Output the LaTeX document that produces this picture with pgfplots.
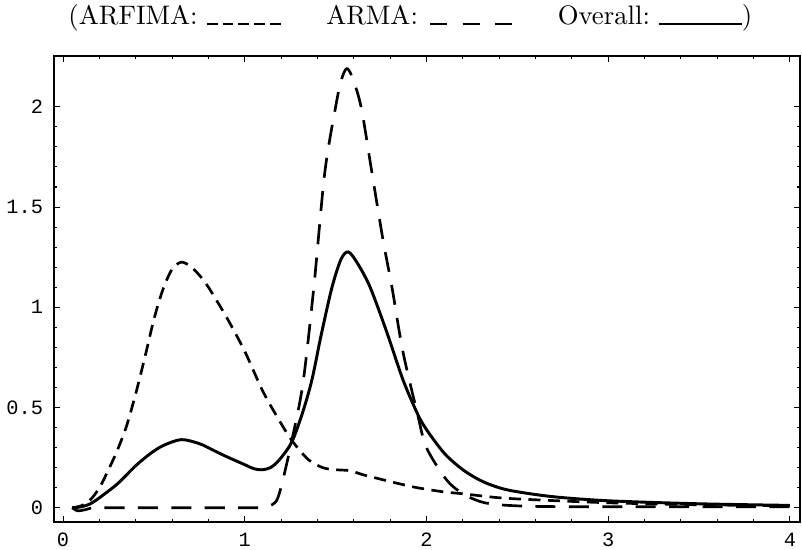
\documentclass[border=0pt]{standalone}
\usepackage{pgfplots}
\pgfplotsset{compat=1.18}
\usepackage{fontspec}
\setmonofont{Liberation Mono}
\newcommand{\dA}{\rule{4.1pt}{0.75pt}}
\newcommand{\dB}{\rule{6.4pt}{0.75pt}}
\begin{document}
\begin{tikzpicture}
\useasboundingbox (-20.2pt,-10.5pt) rectangle (279.8pt,195.2pt);
\begin{axis}[
  scale only axis,
  width=279pt, height=174.3pt,
  xmin=-0.05, xmax=4.055, ymin=-0.07, ymax=2.254,
  xtick={0,1,2,3,4}, ytick={0,0.5,1,1.5,2},
  minor x tick num=4, minor y tick num=4,
  tick align=inside,
  major tick length=2.2pt, minor tick length=1.2pt,
  axis line style={line width=0.6pt},
  every tick/.style={black, line width=0.4pt},
  tick label style={font=\ttfamily\fontsize{7.6}{9}\selectfont},
  /pgf/number format/assume math mode=true,
  yticklabel style={xshift=-0.6pt},
  xticklabel style={yshift=-0.6pt},
  clip=true,
]
% ARFIMA
\addplot[black, line width=1pt, smooth, tension=0.5, dash pattern=on 4.5pt off 2.8pt] coordinates {
(0.05,0.0)(0.1,0.01)(0.15,0.04)(0.2,0.1)(0.25,0.19)(0.3,0.29)(0.35,0.41)(0.4,0.57)(0.45,0.75)(0.5,0.94)(0.55,1.09)(0.6,1.19)(0.65,1.225)(0.7,1.205)(0.75,1.16)(0.8,1.1)(0.9,0.95)(1.0,0.78)(1.1,0.58)(1.2,0.42)(1.264,0.33)(1.35,0.24)(1.43,0.20)(1.5,0.19)(1.58,0.185)(1.65,0.165)(1.76,0.14)(1.85,0.12)(1.95,0.10)(2.09,0.08)(2.2,0.07)(2.4,0.05)(2.6,0.04)(3.0,0.025)(3.5,0.015)(4.0,0.01)
};
% ARMA
\addplot[black, line width=1pt, smooth, tension=0.5, dash pattern=on 7.5pt off 5pt] coordinates {
(0.05,0.0)(0.08,-0.015)(0.12,-0.01)(0.17,0.0)(0.3,0)(0.5,0)(0.7,0)(0.9,0)(1.05,0.0)(1.1,0.003)(1.15,0.015)(1.18,0.045)(1.21,0.14)(1.26,0.34)(1.32,0.62)(1.38,1.10)(1.44,1.67)(1.50,2.0)(1.53,2.13)(1.56,2.19)(1.59,2.15)(1.64,2.0)(1.70,1.67)(1.76,1.34)(1.81,1.10)(1.87,0.78)(1.95,0.47)(2.0,0.30)(2.11,0.14)(2.2,0.07)(2.3,0.03)(2.4,0.015)(2.6,0.007)(3,0.005)(3.5,0.005)(4,0.005)
};
% Overall
\addplot[black, line width=1.1pt, smooth, tension=0.5] coordinates {
(0.05,0.0)(0.1,0.005)(0.15,0.02)(0.2,0.05)(0.3,0.12)(0.4,0.21)(0.48,0.27)(0.55,0.31)(0.65,0.34)(0.75,0.32)(0.82,0.29)(0.9,0.255)(1.0,0.215)(1.05,0.195)(1.1,0.19)(1.15,0.205)(1.2,0.25)(1.26,0.33)(1.32,0.48)(1.37,0.64)(1.42,0.86)(1.48,1.10)(1.53,1.24)(1.57,1.276)(1.62,1.22)(1.69,1.10)(1.78,0.88)(1.87,0.64)(1.95,0.47)(2.0,0.39)(2.1,0.27)(2.2,0.19)(2.3,0.135)(2.4,0.10)(2.5,0.08)(2.7,0.055)(3.0,0.035)(3.5,0.02)(4.0,0.012)
};
\end{axis}
\node[anchor=base west, inner sep=0pt, font=\fontsize{10}{12}\selectfont] at (5.2pt,186.0pt)
{(ARFIMA:\hspace{3.4pt}\dA\hspace{1.8pt}\dA\hspace{1.8pt}\dA\hspace{1.8pt}\dA\hspace{1.8pt}\dA\hspace{17pt}ARMA:\hspace{4.5pt}\dB\hspace{5.8pt}\dB\hspace{5.8pt}\dB\hspace{17pt}Overall:\hspace{3.4pt}\rule{31pt}{0.75pt})};
\end{tikzpicture}
\end{document}
